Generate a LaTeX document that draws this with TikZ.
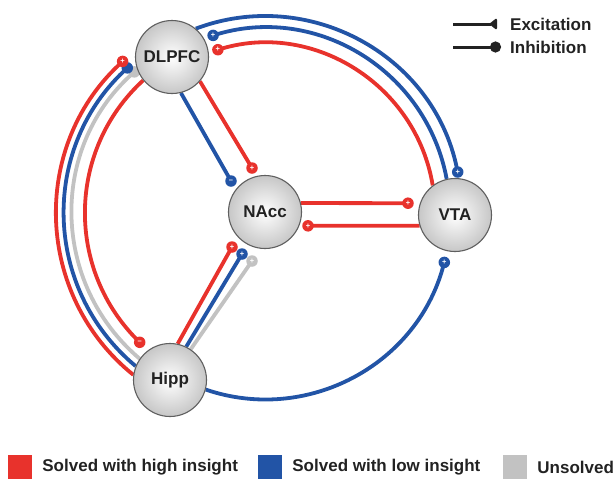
\documentclass[tikz,border=0pt]{standalone}
\usepackage{fontspec}
\setmainfont{Liberation Sans}
\usetikzlibrary{arrows.meta,positioning}
\pgfdeclarelayer{bg}
\pgfsetlayers{bg,main}
\definecolor{hired}{RGB}{232,50,44}
\definecolor{loblue}{RGB}{34,84,166}
\definecolor{unsgray}{RGB}{194,194,194}
\definecolor{ink}{RGB}{34,34,34}
\definecolor{rim}{RGB}{95,95,95}

\begin{document}
\begin{tikzpicture}
  [x=1pt,y=1pt,
   area/.style={circle,draw=rim,line width=1.1pt,inner color=white,outer color=black!22,
     minimum size=73pt,inner sep=0pt,text=ink,font=\fontsize{17}{17}\selectfont\bfseries},
   link/.style={line width=3.8pt},
   exc/.style={link,-{Triangle[reversed,length=7pt,width=11pt]}},
   inh/.style={link},
   sgn/.style={circle,minimum size=11.5pt,inner sep=0pt,text=white,
     font=\fontsize{7.5}{7.5}\selectfont\bfseries},
   legsq/.style={minimum size=24pt,inner sep=0pt},
   legtxt/.style={inner sep=0pt,text=ink,font=\fontsize{17}{17}\selectfont\bfseries}]
  \useasboundingbox (0,0) rectangle (614,-480);
  % regions
  \node[area] (ndlpfc) at (172,-57) {DLPFC};
  \node[area] (nnacc) at (265,-212) {NAcc};
  \node[area] (nvta) at (455,-215) {VTA};
  \node[area] (nhipp) at (170,-380) {Hipp};
  % ends of the connectors
  \coordinate (ta1) at (457.7,-172.0);
  \coordinate (ta2) at (213.1,-35.4);
  \coordinate (ta3) at (217.9,-49.7);
  \coordinate (tb1) at (122.6,-61.4);
  \coordinate (tb2) at (127.3,-67.9);
  \coordinate (tb3) at (134.3,-71.9);
  \coordinate (tb4) at (139.7,-342.3);
  \coordinate (tc1) at (444.3,-262.4);
  \coordinate (td1) at (231,-181);
  \coordinate (td2) at (252,-168);
  \coordinate (te1) at (408,-203.2);
  \coordinate (te2) at (308,-225.8);
  \coordinate (tf1) at (232,-247);
  \coordinate (tf2) at (242,-254);
  \coordinate (tf3) at (252,-261);
  \begin{pgfonlayer}{bg}
    % DLPFC -- VTA
    \draw[exc,loblue] (ndlpfc.50) to[out=20.6,in=102,looseness=1.03] (ta1);
    \draw[exc,loblue] (nvta.103) to[out=100.6,in=16.3,looseness=1.02] (ta2);
    \draw[exc,hired] (nvta.127) to[out=99.3,in=16.1,looseness=1.02] (ta3);
    % Hipp -- DLPFC
    \draw[exc,unsgray] (nhipp.145) to[out=139.6,in=222.5,looseness=1.03] (tb3);
    \draw[exc,loblue] (nhipp.158) to[out=140.1,in=223.5,looseness=1.03] (tb2);
    \draw[exc,hired] (nhipp.172) to[out=141.1,in=223.2,looseness=1.03] (tb1);
    \draw[inh,hired] (ndlpfc.219) to[out=222.5,in=135.9,looseness=1.01] (tb4);
    % Hipp -- VTA
    \draw[exc,loblue] (nhipp.345) to[out=341.2,in=254.6,looseness=1.01] (tc1);
    % straight ones
    \foreach \from/\to/\kind/\col in {ndlpfc.-76/td1/inh/loblue,ndlpfc.-41/td2/exc/hired,
        nnacc.14/te1/exc/hired,nvta.197/te2/exc/hired,nhipp.56/tf3/exc/unsgray,
        nhipp.64/tf2/exc/loblue,nhipp.78/tf1/exc/hired}
      \draw[\kind,\col] (\from) -- (\to);
    % heads with their signs
    \foreach \at/\col/\s in {ta1/loblue/+,ta2/loblue/+,ta3/hired/+,tb3/unsgray/,
        tb2/loblue/,tb1/hired/+,tb4/hired/–,tc1/loblue/+,td1/loblue/–,td2/hired/+,
        te1/hired/+,te2/hired/+,tf3/unsgray/+,tf2/loblue/+,tf1/hired/+}
      \node[sgn,fill=\col] (s\at) at (\at) {\s};
  \end{pgfonlayer}
  % key, top right
  \coordinate (lea) at (453,-24);
  \coordinate (leb) at (497,-24);
  \coordinate (lia) at (453,-47);
  \coordinate (lib) at (501,-47);
  \draw[line width=3pt,ink,-{Triangle[reversed,round,length=8pt,width=12pt]}] (lea) -- (leb);
  \draw[line width=3pt,ink,-{Circle[length=11pt]}] (lia) -- (lib);
  \node[legtxt,anchor=west] (lexc) at (510,-24) {Excitation};
  \node[legtxt,anchor=west] (linh) at (510,-47) {Inhibition};
  % key, bottom
  \node[legsq,fill=hired] (sqhi) at (20,-467) {};
  \node[legsq,fill=loblue] (sqlo) at (270,-467) {};
  \node[legsq,fill=unsgray] (squn) at (515,-467) {};
  \node[legtxt,right=10pt of sqhi] (lhi) {Solved with high insight};
  \node[legtxt,right=10pt of sqlo] (llo) {Solved with low insight};
  \node[legtxt,right=10pt of squn] (lun) {Unsolved};
\end{tikzpicture}
\end{document}
